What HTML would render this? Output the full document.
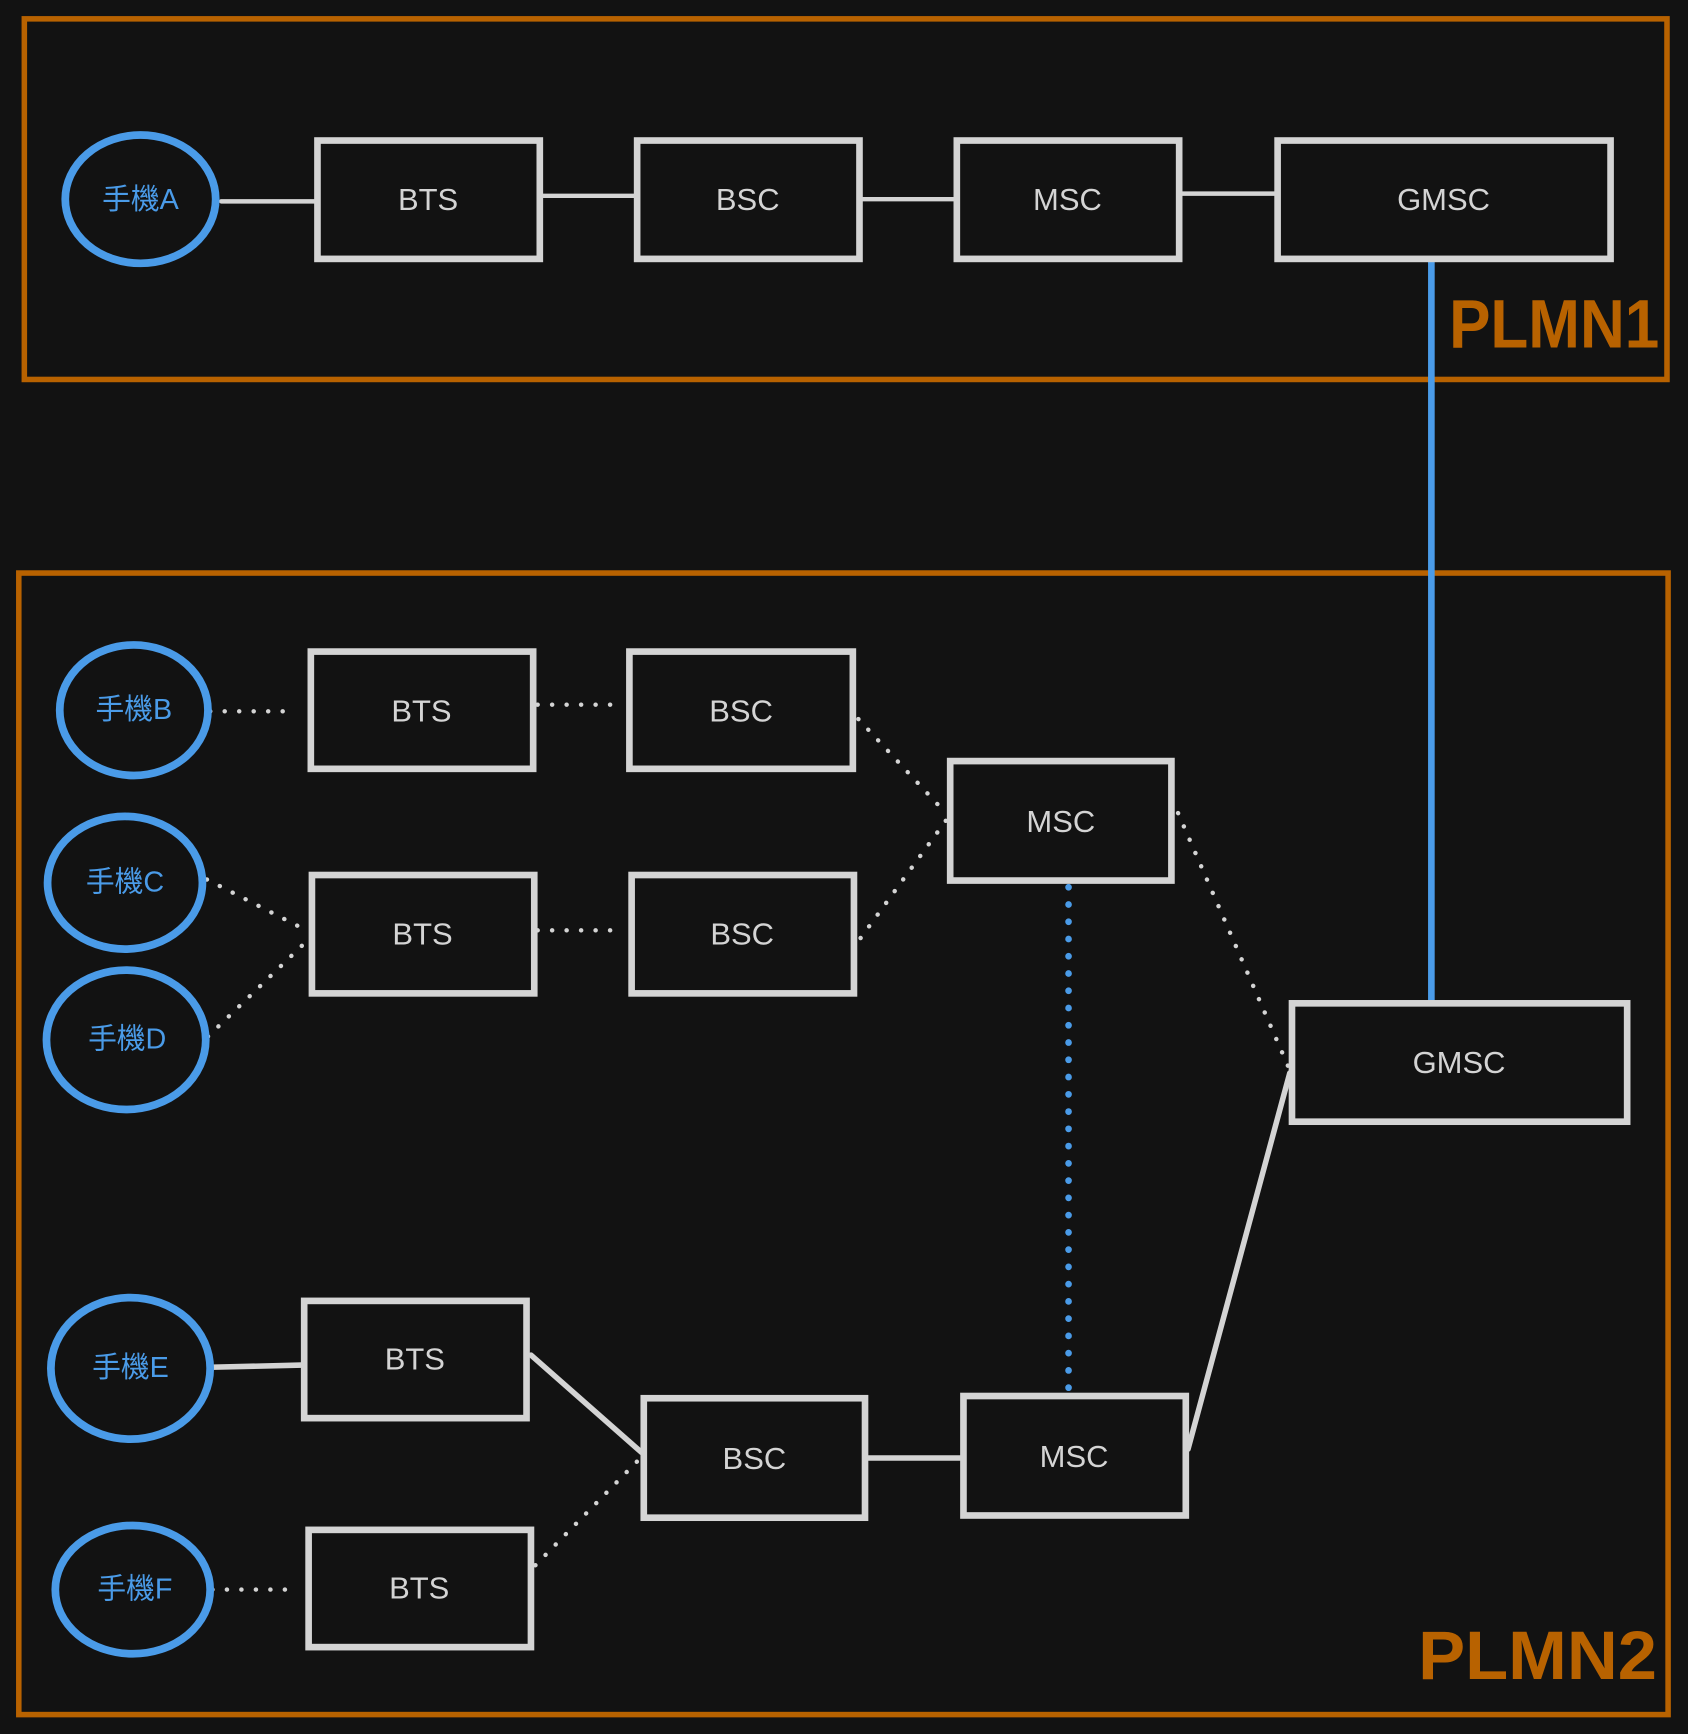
<!DOCTYPE html>
<html><head><meta charset="utf-8"><style>
html,body{margin:0;padding:0;background:#121212;}
svg{display:block}
text{font-family:"Liberation Sans","Noto Sans CJK TC",sans-serif;}
</style></head><body>
<svg width="1688" height="1734" viewBox="0 0 1526 1567.5" xmlns="http://www.w3.org/2000/svg">
<rect x="0" y="0" width="1526" height="1568" fill="#121212"/>
<g fill="none" stroke="#b86200" stroke-width="5">
<rect x="22" y="17" width="1485" height="326"/>
<rect x="17" y="518" width="1491" height="1032"/>
</g>
<g fill="#b86200" font-size="62" font-weight="bold">
<text x="1310" y="314" textLength="190" lengthAdjust="spacingAndGlyphs">PLMN1</text>
<text x="1282" y="1518" textLength="216" lengthAdjust="spacingAndGlyphs">PLMN2</text>
</g>
<g stroke="#d4d4d4" stroke-width="4" fill="none" stroke-linecap="round">
<line x1="200" y1="182" x2="285" y2="182"/>
<line x1="490" y1="177" x2="573" y2="177"/>
<line x1="779" y1="180" x2="862" y2="180"/>
<line x1="1068" y1="175" x2="1152" y2="175"/>
<line x1="190" y1="1236" x2="273" y2="1234" stroke-width="5"/>
<line x1="480" y1="1225" x2="580" y2="1313" stroke-width="5"/>
<line x1="785" y1="1318" x2="870" y2="1318" stroke-width="5"/>
<line x1="1074" y1="1310" x2="1166" y2="970" stroke-width="5"/>
</g>
<g stroke="#d4d4d4" stroke-width="4" fill="none" stroke-linecap="round" stroke-dasharray="0.1 13">
<line x1="190" y1="643" x2="265" y2="643"/>
<line x1="486" y1="637" x2="560" y2="637"/>
<line x1="776" y1="650" x2="855" y2="735"/>
<line x1="778" y1="848" x2="855" y2="742"/>
<line x1="187" y1="795" x2="275" y2="840"/>
<line x1="188" y1="937" x2="278" y2="850"/>
<line x1="486" y1="841" x2="562" y2="841"/>
<line x1="1065" y1="735" x2="1165" y2="965"/>
<line x1="192" y1="1437" x2="268" y2="1437"/>
<line x1="484" y1="1415" x2="580" y2="1317"/>
</g>
<line x1="966" y1="802" x2="966" y2="1260" stroke="#4a9be8" stroke-width="6" stroke-linecap="round" stroke-dasharray="0.1 15.5"/>
<line x1="1294" y1="236" x2="1294" y2="905" stroke="#4a9be8" stroke-width="6"/>
<g fill="#121212" stroke="#d4d4d4" stroke-width="6">
<rect x="287" y="127" width="201" height="107"/>
<rect x="576" y="127" width="201" height="107"/>
<rect x="865" y="127" width="201" height="107"/>
<rect x="1155" y="127" width="301" height="107"/>
<rect x="281" y="589" width="201" height="106"/>
<rect x="569" y="589" width="202" height="106"/>
<rect x="859" y="688" width="200" height="108"/>
<rect x="282" y="791" width="201" height="107"/>
<rect x="571" y="791" width="201" height="107"/>
<rect x="1168" y="907" width="303" height="107"/>
<rect x="275" y="1176" width="201" height="106"/>
<rect x="582" y="1264" width="200" height="108"/>
<rect x="871" y="1262" width="201" height="108"/>
<rect x="279" y="1383" width="201" height="106"/>
</g>
<g fill="#d4d4d4" font-size="28" text-anchor="middle">
<text x="387" y="190">BTS</text>
<text x="676" y="190">BSC</text>
<text x="965" y="190">MSC</text>
<text x="1305" y="190">GMSC</text>
<text x="381" y="652">BTS</text>
<text x="670" y="652">BSC</text>
<text x="959" y="752">MSC</text>
<text x="382" y="854">BTS</text>
<text x="671" y="854">BSC</text>
<text x="1319" y="970">GMSC</text>
<text x="375" y="1238">BTS</text>
<text x="682" y="1328">BSC</text>
<text x="971" y="1326">MSC</text>
<text x="379" y="1445">BTS</text>
</g>
<g fill="none" stroke="#4a9be8" stroke-width="7">
<ellipse cx="127" cy="180" rx="68" ry="58"/>
<ellipse cx="121" cy="642" rx="67" ry="59"/>
<ellipse cx="113" cy="798" rx="70" ry="60"/>
<ellipse cx="114" cy="940" rx="72" ry="63"/>
<ellipse cx="118" cy="1237" rx="72" ry="64"/>
<ellipse cx="120" cy="1437" rx="70" ry="58"/>
</g>
<g fill="#4a9be8" font-size="26" text-anchor="middle">
<text x="127" y="189">手機A</text>
<text x="121" y="650">手機B</text>
<text x="113" y="806">手機C</text>
<text x="115" y="948">手機D</text>
<text x="118" y="1245">手機E</text>
<text x="122" y="1445">手機F</text>
</g>
</svg>
</body></html>
